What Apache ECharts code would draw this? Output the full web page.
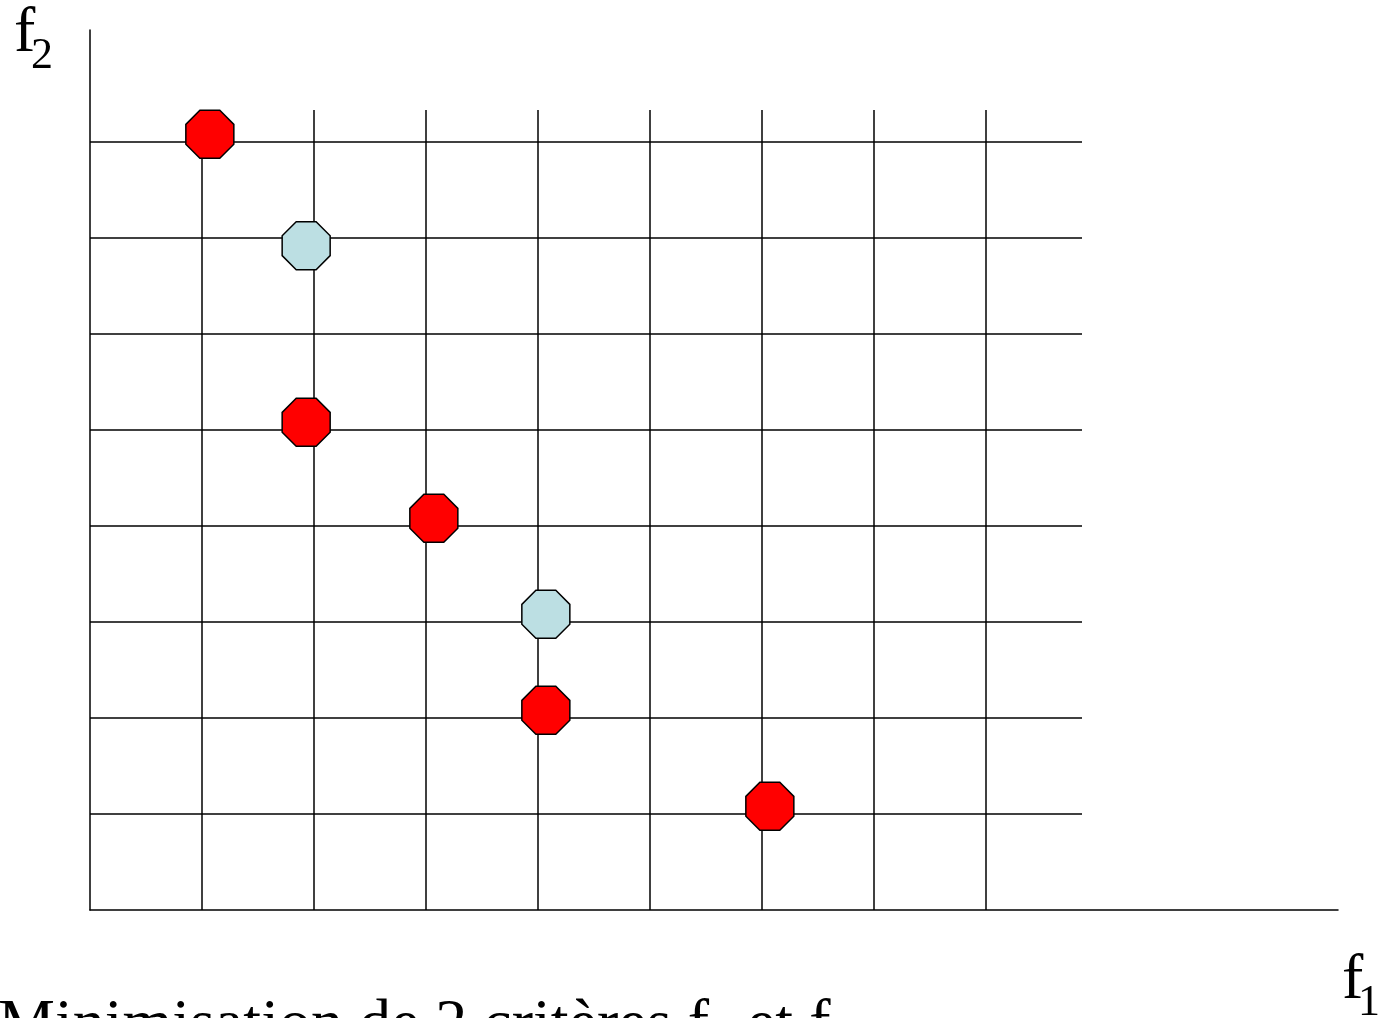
<!DOCTYPE html>
<html>
<head>
<meta charset="utf-8">
<script src="https://cdn.jsdelivr.net/npm/echarts@6/dist/echarts.min.js"></script>
<style>
  html, body { margin: 0; padding: 0; background: #fff; }
  #chart { width: 1379px; height: 1018px; }
</style>
</head>
<body>
<div id="chart"></div>
<script>
// Solutions in the (f1, f2) criteria space
const paretoF1 = [1.07, 1.93, 3.07, 4.07, 6.07];
const paretoF2 = [8.08, 5.08, 4.08, 2.08, 1.08];
const dominatedF1 = [1.93, 4.07];
const dominatedF2 = [6.92, 3.08];

// Caption pieces: [text, isSubscript]
const captionParts = [
  ['Minimisation de 2 critères f', false],
  ['1', true],
  [' et f', false],
  ['2', true]
];

// Extent of the lattice drawn behind the points (in criterion units)
const latticeF1Max = 992 / 112;
const latticeF2Max = 800 / 96;

const serif = '"Liberation Serif", "Times New Roman", serif';
const mainFont = '64px ' + serif;
const subFont = '44px ' + serif;
const octagon = 'path://M29.29,0 L70.71,0 L100,29.29 L100,70.71 L70.71,100 L29.29,100 L0,70.71 L0,29.29 Z';
const lineStyle = { color: '#000', width: 1.5 };

const pairs = (xs, ys) => xs.map((x, i) => [x, ys[i]]);

// Measure text so subscripts can follow the preceding run
const measureCtx = document.createElement('canvas').getContext('2d');
function textWidth(text, font) {
  measureCtx.font = font;
  return measureCtx.measureText(text).width;
}

function captionGraphics(x0, yMain, ySub) {
  const out = [];
  let x = x0;
  captionParts.forEach(([text, isSub]) => {
    const font = isSub ? subFont : mainFont;
    out.push({
      type: 'text', x: x, y: isSub ? ySub : yMain,
      style: { text: text, font: font, fill: '#000', verticalAlign: 'middle' }
    });
    x += textWidth(text, font);
  });
  return out;
}

const chart = echarts.init(document.getElementById('chart'), null, { renderer: 'canvas' });

chart.setOption({
  backgroundColor: '#fff',
  animation: false,
  grid: [
    { left: 90, top: 110, width: 992, height: 800 },
    { left: 90, top: 30, width: 1248, height: 880 }
  ],
  xAxis: [
    {
      gridIndex: 0, type: 'value', min: 0, max: latticeF1Max, interval: 1,
      axisLine: { show: false }, axisTick: { show: false }, axisLabel: { show: false },
      splitLine: { show: true, showMinLine: false, showMaxLine: false, lineStyle: lineStyle }
    },
    {
      gridIndex: 1, type: 'value', min: 0, max: 1,
      axisLine: { show: true, lineStyle: lineStyle },
      axisTick: { show: false }, axisLabel: { show: false }, splitLine: { show: false }
    }
  ],
  yAxis: [
    {
      gridIndex: 0, type: 'value', min: 0, max: latticeF2Max, interval: 1,
      axisLine: { show: false }, axisTick: { show: false }, axisLabel: { show: false },
      splitLine: { show: true, showMinLine: false, showMaxLine: false, lineStyle: lineStyle }
    },
    {
      gridIndex: 1, type: 'value', min: 0, max: 1,
      axisLine: { show: true, lineStyle: lineStyle },
      axisTick: { show: false }, axisLabel: { show: false }, splitLine: { show: false }
    }
  ],
  series: [
    {
      name: 'Pareto',
      type: 'scatter', xAxisIndex: 0, yAxisIndex: 0,
      symbol: octagon, symbolSize: 48,
      itemStyle: { color: '#ff0000', borderColor: '#000', borderWidth: 1.5, opacity: 1 },
      data: pairs(paretoF1, paretoF2),
      z: 5
    },
    {
      name: 'Dominated',
      type: 'scatter', xAxisIndex: 0, yAxisIndex: 0,
      symbol: octagon, symbolSize: 48,
      itemStyle: { color: '#bcdfe3', borderColor: '#000', borderWidth: 1.5, opacity: 1 },
      data: pairs(dominatedF1, dominatedF2),
      z: 5
    }
  ],
  graphic: [
    { type: 'text', x: 14, y: 34, style: { text: 'f', font: mainFont, fill: '#000', verticalAlign: 'middle' } },
    { type: 'text', x: 31, y: 56, style: { text: '2', font: subFont, fill: '#000', verticalAlign: 'middle' } },
    { type: 'text', x: 1342, y: 981, style: { text: 'f', font: mainFont, fill: '#000', verticalAlign: 'middle' } },
    { type: 'text', x: 1358, y: 1003, style: { text: '1', font: subFont, fill: '#000', verticalAlign: 'middle' } }
  ].concat(captionGraphics(-2, 1026, 1048))
});
</script>
</body>
</html>
